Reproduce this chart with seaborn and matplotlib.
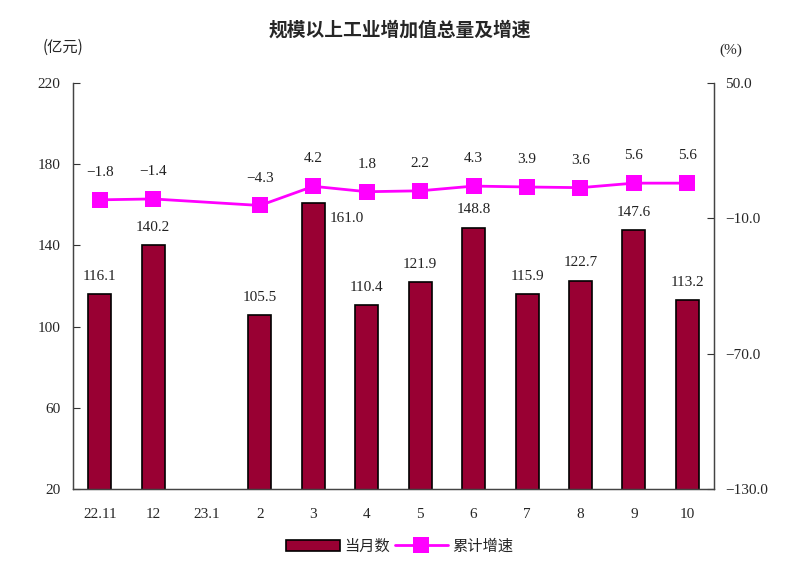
import numpy as np
import pandas as pd
import matplotlib
matplotlib.use("Agg")
import matplotlib.pyplot as plt
import seaborn as sns
from matplotlib.patches import Patch
from matplotlib.lines import Line2D

months = ["22.11", "12", "23.1", "2", "3", "4", "5", "6", "7", "8", "9", "10"]
monthly_value = [116.1, 140.2, np.nan, 105.5, 161.0, 110.4, 121.9, 148.8, 115.9, 122.7, 147.6, 113.2]
cum_growth = [-1.8, -1.4, np.nan, -4.3, 4.2, 1.8, 2.2, 4.3, 3.9, 3.6, 5.6, 5.6]

BAR_COLOR = "#990033"
LINE_COLOR = "#FF00FF"
NUM_FONT = "Liberation Serif"
CJK = ["Noto Sans CJK SC", "DejaVu Sans"]

sns.set_style("white")
plt.rcParams["font.family"] = [NUM_FONT, "Noto Sans CJK SC", "DejaVu Sans"]
plt.rcParams["axes.unicode_minus"] = True

df = pd.DataFrame({"month": months, "value": monthly_value, "growth": cum_growth})
df["pos"] = np.arange(len(months))

fig = plt.figure(figsize=(8, 5.74), dpi=100)
ax = fig.add_axes([73 / 800, 1 - 489 / 574, 641 / 800, 406 / 574])

# monthly totals as bars
sns.barplot(data=df.dropna(), x="month", y="value", order=months, ax=ax,
            color=BAR_COLOR, saturation=1, width=0.43, edgecolor="black",
            linewidth=1.2, errorbar=None)
ax.set_xlim(-0.5, len(months) - 0.5)
ax.set_ylim(20, 220)
ax.set_yticks(range(20, 221, 40))
ax.set_xlabel("")
ax.set_ylabel("")

# cumulative growth on the right axis
ax2 = ax.twinx()
sns.lineplot(data=df.dropna(), x="pos", y="growth", ax=ax2, color=LINE_COLOR,
             linewidth=2, marker="s", markersize=11, markeredgewidth=0)
ax2.set_ylim(-130, 50)
ax2.set_yticks(np.arange(-130, 51, 60))
ax2.set_yticklabels([f"{v:.1f}".replace("-", "\u2212") for v in np.arange(-130, 51, 60)])
ax2.set_ylabel("")
ax2.set_xlim(-0.5, len(months) - 0.5)

# x ticks between categories, labels at centers
ax.set_xticks(np.arange(len(months)))
ax.set_xticklabels(months)
ax.set_xticks(np.arange(0.5, len(months) - 0.5, 1), minor=True)
ax.tick_params(axis="x", which="major", length=0, pad=14, labelsize=11)
ax.tick_params(axis="x", which="minor", direction="in", length=5, width=0.8, color="#333333")
ax.tick_params(axis="y", direction="in", length=5, width=0.8, color="#333333", labelsize=11, pad=9)
ax2.tick_params(axis="y", direction="in", length=5, width=0.8, color="#333333", labelsize=11, pad=8)

for a in (ax, ax2):
    a.spines["top"].set_visible(False)
    for side in ("left", "right", "bottom"):
        a.spines[side].set_color("#444444")
        a.spines[side].set_linewidth(0.9)

# bar value labels (offset in points)
bar_offsets = {4: (24, -16)}
for i, v in enumerate(monthly_value):
    if np.isnan(v):
        continue
    dx, dy = bar_offsets.get(i, (0, 8))
    ax.annotate(f"{v:.1f}", (i, v), xytext=(dx, dy), textcoords="offset points",
                ha="center", va="bottom", fontsize=11, color="#222222")

for i, v in enumerate(cum_growth):
    if np.isnan(v):
        continue
    ax2.annotate(f"{v:.1f}".replace("-", "\u2212"), (i, v), xytext=(0, 15),
                 textcoords="offset points", ha="center", va="bottom",
                 fontsize=11, color="#222222")

fig.text(0.5, 1 - 30 / 574, "规模以上工业增加值总量及增速", ha="center", va="center",
         fontsize=13.5, fontweight="bold", family=CJK)
fig.text(63 / 800, 1 - 47 / 574, "(亿元)", ha="center", va="center", fontsize=11,
         family=CJK)
fig.text(731 / 800, 1 - 50 / 574, "(%)", ha="center", va="center", fontsize=11,
         family=[NUM_FONT, "Noto Sans CJK SC"])

handles = [Patch(facecolor=BAR_COLOR, edgecolor="black", linewidth=1.2, label="当月数"),
           Line2D([0], [0], color=LINE_COLOR, linewidth=2, marker="s", markersize=11,
                  markeredgewidth=0, label="累计增速")]
fig.legend(handles=handles, loc="center", bbox_to_anchor=(0.5, 1 - 546 / 574), ncol=2,
           frameon=False, prop={"family": CJK, "size": 11}, handlelength=3.5,
           columnspacing=0.3, handletextpad=0.3)

fig.savefig("out.png", dpi=100)
